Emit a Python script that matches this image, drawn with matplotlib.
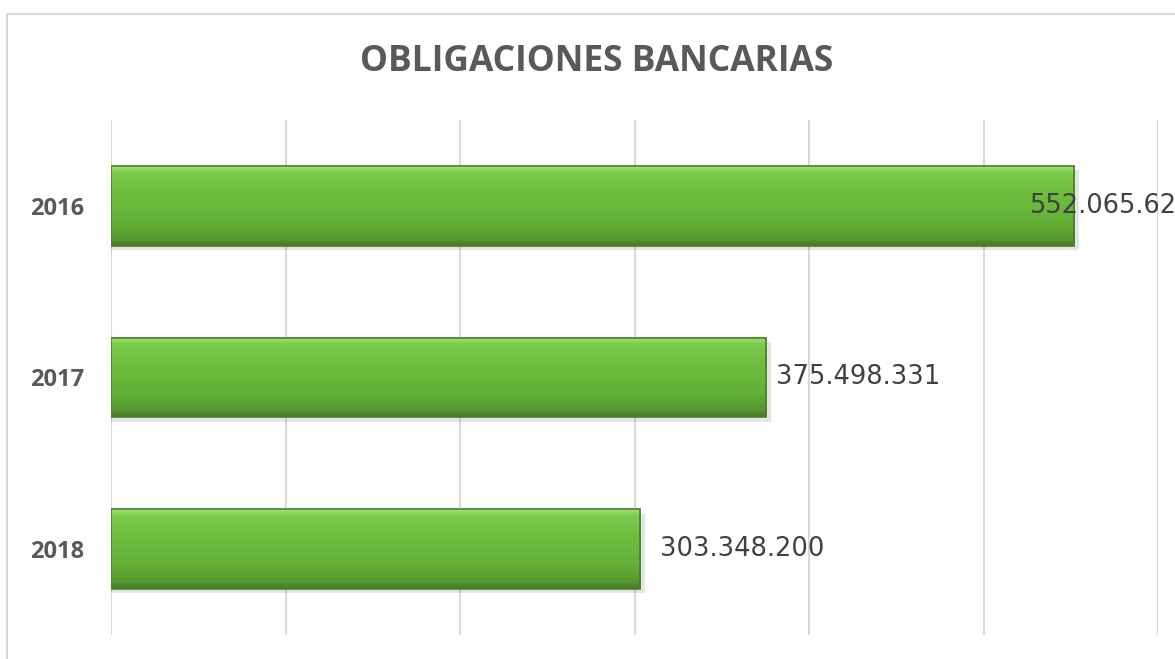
import matplotlib
matplotlib.use("Agg")
import matplotlib.pyplot as plt
import numpy as np
from matplotlib.patches import Rectangle
from matplotlib.colors import LinearSegmentedColormap

years = ["2016", "2017", "2018"]
values = [552065629, 375498331, 303348200]
labels = ["552.065.629", "375.498.331", "303.348.200"]

W, H = 1175, 659
fig = plt.figure(figsize=(W / 100, H / 100), dpi=100)
fig.patch.set_facecolor("white")

# outer chart border (cut at right/bottom like the reference)
fig.patches.append(Rectangle((7 / W, -0.05), 1.2, 1.05 - 14 / H,
                             transform=fig.transFigure, fill=False,
                             edgecolor="#d9d9d9", lw=1.5))

ax = fig.add_axes([111 / W, 1 - 635 / H, (1158 - 111) / W, (635 - 120) / H])
ax.set_xticks(np.arange(0, 600e6 + 1, 100e6))
ax.grid(axis="x", color="#d9d9d9", lw=1.5)
ax.set_axisbelow(True)
for s in ax.spines.values():
    s.set_visible(False)
ax.tick_params(axis="both", length=0)
ax.set_xticklabels([])

cmap = LinearSegmentedColormap.from_list(
    "grn", [(0, "#a3e27a"), (0.08, "#7ccb4c"), (0.3, "#6fbf40"),
            (0.7, "#64b038"), (0.92, "#56982f"), (1, "#45762a")])
grad = np.linspace(0, 1, 64).reshape(-1, 1)
bh = 0.465
for i, v in enumerate(values):
    # soft shadow
    ax.add_patch(Rectangle((0, i - bh / 2 + 0.025), v + 2.5e6, bh, color="#000000",
                           alpha=0.10, lw=0, zorder=2))
    ax.imshow(grad, cmap=cmap, aspect="auto", zorder=3,
              extent=(0, v, i + bh / 2, i - bh / 2), interpolation="bilinear")
    ax.add_patch(Rectangle((0, i - bh / 2), v, bh, fill=False,
                           edgecolor="#4a7f2a", lw=1.2, zorder=4))
ax.set_xlim(0, 600e6)
ax.set_ylim(2.5, -0.5)

ax.set_yticks(range(len(years)))
ax.set_yticklabels(years, fontsize=17, fontweight="bold", color="#595959",
                   family="Open Sans")
ax.tick_params(axis="y", pad=19)

offsets = [-45, 10, 20]
for i, (v, t) in enumerate(zip(values, labels)):
    ax.annotate(t, xy=(v, i), xytext=(offsets[i], 0), textcoords="offset pixels",
                ha="left", va="center", fontsize=18.5, color="#404040",
                family="DejaVu Sans", zorder=6, annotation_clip=False)

fig.text(597 / W, 1 - 62 / H, "OBLIGACIONES BANCARIAS", ha="center", va="center",
         fontsize=25.5, fontweight="bold", color="#595959", family="Open Sans")

fig.savefig("out.png", dpi=100)
